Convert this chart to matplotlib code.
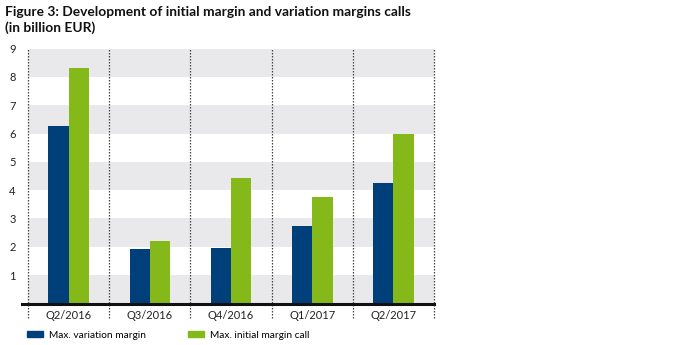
import numpy as np
import matplotlib.pyplot as plt
from matplotlib.patches import Patch

plt.rcParams['font.family'] = ['Lato', 'DejaVu Sans']

quarters = ['Q2/2016', 'Q3/2016', 'Q4/2016', 'Q1/2017', 'Q2/2017']
variation = [6.28, 1.94, 1.96, 2.73, 4.25]
initial = [8.3, 2.2, 4.42, 3.75, 5.97]
labels = ['Max. variation margin', 'Max. initial margin call']

blue = '#00407A'
green = '#85B819'
band = '#E9E9EB'

fig = plt.figure(figsize=(7, 3.45), dpi=100)
ax = fig.add_axes([28 / 700, 1 - 303.5 / 345, 406 / 700, 255 / 345])

x = np.arange(len(quarters))
w = 0.25
ax.bar(x - w / 2, variation, w, color=blue, zorder=3)
ax.bar(x + w / 2, initial, w, color=green, zorder=3)

# grey bands every other unit
for lo in range(0, 9, 2):
    ax.axhspan(lo, lo + 1, color=band, zorder=0, lw=0)

ax.set_xlim(-0.5, len(quarters) - 0.5)
ax.set_ylim(0, 9)

for b in np.arange(-0.5, len(quarters), 1):
    ax.plot([b, b], [-0.52, 9], ls=(0, (1.2, 1.2)), color='#444444', lw=0.9,
            clip_on=False, zorder=4)
ax.plot([-0.58, len(quarters) - 0.5], [0, 0], color='#111111', lw=2.2,
        clip_on=False, zorder=5)

for s in ax.spines.values():
    s.set_visible(False)
ax.set_xticks(x)
ax.set_xticklabels(quarters, fontsize=8, color='#222222')
ax.set_yticks(range(1, 10))
ax.set_yticklabels([str(i) for i in range(1, 10)], fontsize=8, color='#222222')
ax.tick_params(length=0)
ax.tick_params(axis='x', pad=4.5)
ax.tick_params(axis='y', pad=9)

fig.text(5 / 700, 1 - 12 / 345, 'Figure 3: Development of initial margin and variation margins calls',
         fontsize=9.9, fontweight='bold', va='center', color='#111111')
fig.text(5 / 700, 1 - 28 / 345, '(in billion EUR)',
         fontsize=9.9, fontweight='bold', va='center', color='#111111')

for lab, col, xpos in zip(labels, [blue, green], [27, 188]):
    fig.legend(handles=[Patch(color=col, label=lab)], loc='center left',
               bbox_to_anchor=(xpos / 700, 1 - 335 / 345), frameon=False,
               fontsize=7.3, handlelength=1.6, handleheight=0.55, handletextpad=0.6,
               borderaxespad=0, borderpad=0)

fig.savefig('out.png', dpi=100)
